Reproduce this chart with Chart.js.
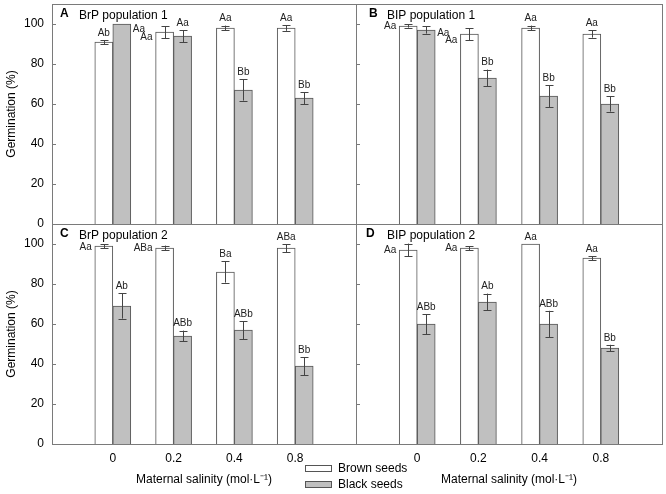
<!DOCTYPE html>
<html lang="en">
<head>
<meta charset="UTF-8">
<title>Germination by maternal salinity</title>
<script src="https://cdn.jsdelivr.net/npm/chart.js"></script>
<style>
  * { margin: 0; padding: 0; box-sizing: border-box; }
  html, body { overflow: hidden; }
  body { width: 666px; height: 494px; background: #fff; font-family: "Liberation Sans", Arial, sans-serif; }
  #wrap { position: relative; width: 666px; height: 494px; }
  #wrap canvas { position: absolute; }
  #legend { position: absolute; left: 305px; top: 460px; font-size: 12px; color: #000; }
  #legend div { height: 16px; display: flex; align-items: center; }
  #legend span { display: inline-block; width: 27px; height: 7px; border: 1px solid #555; margin-right: 6px; }
</style>
</head>
<body>
<div id="wrap">
  <canvas id="cA" width="372" height="252" style="left:0;top:-12px"></canvas>
  <canvas id="cB" width="314" height="228" style="left:352px;top:0"></canvas>
  <canvas id="cC" width="363" height="286" style="left:0;top:208px"></canvas>
  <canvas id="cD" width="320" height="274" style="left:349px;top:220px"></canvas>
  <div id="legend">
    <div><span style="background:#fff"></span>Brown seeds</div>
    <div><span style="background:#c0c0c0"></span>Black seeds</div>
  </div>
</div>

<script>
  const salinity = ['0', '0.2', '0.4', '0.8'];
  const yTicks = [0, 20, 40, 60, 80, 100];

  // A - BrP population 1
  const brownA = [91, 96, 98, 98];
  const brownErrA = [1, 3, 1.2, 1.4];
  const blackA = [100, 94, 67, 63];
  const blackErrA = [0, 3, 5.3, 3];
  const brownLetA = ['Ab', 'Aa', 'Aa', 'Aa'];
  const blackLetA = ['Aa', 'Aa', 'Bb', 'Bb'];

  // B - BIP population 1
  const brownB = [99, 95, 98, 95];
  const brownErrB = [0.8, 3, 1.2, 1.8];
  const blackB = [97, 73, 64, 60];
  const blackErrB = [1.8, 4.2, 5.5, 3.8];
  const brownLetB = ['Aa', 'Aa', 'Aa', 'Aa'];
  const blackLetB = ['Aa', 'Bb', 'Bb', 'Bb'];

  // C - BrP population 2
  const brownC = [99, 98, 86, 98];
  const brownErrC = [1, 1.2, 5.3, 2];
  const blackC = [69, 54, 57, 39];
  const blackErrC = [6.3, 2.7, 4.5, 4.5];
  const brownLetC = ['Aa', 'ABa', 'Ba', 'ABa'];
  const blackLetC = ['Ab', 'ABb', 'ABb', 'Bb'];

  // D - BIP population 2
  const brownD = [97, 98, 100, 93];
  const brownErrD = [3.2, 1, 0, 1];
  const blackD = [60, 71, 60, 48];
  const blackErrD = [5, 4.2, 6.6, 1.6];
  const brownLetD = ['Aa', 'Aa', 'Aa', 'Aa'];
  const blackLetD = ['ABb', 'Ab', 'ABb', 'Bb'];

  const FONT = '"Liberation Sans", Arial, sans-serif';

  // error bars, significance letters, frame, inward ticks, panel title
  const panelPlugin = {
    id: 'panel',
    afterDatasetsDraw(chart, args, o) {
      const { ctx, chartArea: a, scales: { y } } = chart;
      ctx.save();
      chart.data.datasets.forEach((ds, di) => {
        chart.getDatasetMeta(di).data.forEach((bar, i) => {
          const v = ds.data[i].y, e = ds.errors[i];
          const top = y.getPixelForValue(v + e);
          if (e > 0) {
            const bot = y.getPixelForValue(v - e);
            const x = Math.round(bar.x) + 0.5;
            ctx.strokeStyle = '#444';
            ctx.lineWidth = 1;
            ctx.beginPath();
            ctx.moveTo(x, top); ctx.lineTo(x, bot);
            ctx.moveTo(x - 4, Math.round(top) + 0.5); ctx.lineTo(x + 4, Math.round(top) + 0.5);
            ctx.moveTo(x - 4, Math.round(bot) + 0.5); ctx.lineTo(x + 4, Math.round(bot) + 0.5);
            ctx.stroke();
          }
          const side = (o.sides[ds.key] || {})[i];
          ctx.fillStyle = '#222';
          ctx.font = '10px ' + FONT;
          ctx.textBaseline = 'middle';
          if (!side) {
            ctx.textAlign = 'center';
            ctx.fillText(ds.letters[i], bar.x, top - 7);
          } else if (side[0] === 'left') {
            ctx.textAlign = 'right';
            ctx.fillText(ds.letters[i], bar.x - bar.width / 2 - 3, y.getPixelForValue(v) + side[1]);
          } else {
            ctx.textAlign = 'left';
            ctx.fillText(ds.letters[i], bar.x + bar.width / 2 + 2, y.getPixelForValue(v) + side[1]);
          }
        });
      });

      ctx.strokeStyle = '#7a7a7a';
      ctx.lineWidth = 1;
      ctx.strokeRect(a.left + 0.5, a.top + 0.5, a.right - a.left, a.bottom - a.top);
      ctx.beginPath();
      yTicks.forEach(t => {
        const py = Math.round(y.getPixelForValue(t)) + 0.5;
        ctx.moveTo(a.left, py);
        ctx.lineTo(a.left + 4, py);
      });
      ctx.stroke();

      ctx.fillStyle = '#000';
      ctx.textAlign = 'left';
      ctx.textBaseline = 'alphabetic';
      ctx.font = 'bold 12px ' + FONT;
      ctx.fillText(o.tag, a.left + o.tagX, a.top + 13);
      ctx.font = '12px ' + FONT;
      ctx.fillText(o.name, a.left + o.nameX, a.top + 15);
      ctx.restore();
    }
  };

  function makePanel(id, brown, brownErr, brownLet, black, blackErr, blackLet, p) {
    const ctx = document.getElementById(id).getContext('2d');
    return new Chart(ctx, {
      type: 'bar',
      data: {
        datasets: [{
          key: 'brown',
          label: 'Brown seeds',
          data: brown.map((v, i) => ({ x: i, y: v })),
          errors: brownErr,
          letters: brownLet,
          backgroundColor: '#ffffff',
          borderColor: '#555555',
          borderWidth: 1
        }, {
          key: 'black',
          label: 'Black seeds',
          data: black.map((v, i) => ({ x: i, y: v })),
          errors: blackErr,
          letters: blackLet,
          backgroundColor: '#c0c0c0',
          borderColor: '#555555',
          borderWidth: 1
        }]
      },
      options: {
        responsive: false,
        animation: false,
        barThickness: 18,
        layout: { padding: p.padding },
        plugins: {
          legend: { display: false },
          tooltip: { enabled: false },
          panel: { tag: p.tag, name: p.name, tagX: p.tagX, nameX: p.nameX, sides: p.sides }
        },
        scales: {
          x: {
            type: 'linear',
            min: -1,
            max: 4,
            offset: false,
            display: p.showX,
            grid: { display: false, drawTicks: false },
            border: { display: false },
            ticks: {
              stepSize: 1,
              autoSkip: false,
              maxRotation: 0,
              padding: 7,
              color: '#000',
              font: { family: FONT, size: 12 },
              callback: v => salinity[v] ?? ''
            },
            title: {
              display: true,
              text: 'Maternal salinity (mol·L⁻¹)',
              color: '#000',
              font: { family: FONT, size: 12 },
              padding: { top: 0, bottom: 7 }
            },
            afterFit: s => { s.height = p.showX ? 50 : 0; }
          },
          y: {
            min: 0,
            max: 110,
            display: p.showY,
            grid: { display: false, drawTicks: false },
            border: { display: false },
            afterBuildTicks: s => { s.ticks = yTicks.map(v => ({ value: v })); },
            ticks: {
              padding: 8,
              color: '#000',
              font: { family: FONT, size: 12 }
            },
            title: {
              display: true,
              text: 'Germination (%)',
              color: '#000',
              font: { family: FONT, size: 12 },
              padding: { top: 4, bottom: 0 }
            },
            afterFit: s => { s.width = p.showY ? 52 : 0; }
          }
        }
      },
      plugins: [panelPlugin]
    });
  }

  makePanel('cA', brownA, brownErrA, brownLetA, blackA, blackErrA, blackLetA, {
    tag: 'A', name: 'BrP population 1', tagX: 8, nameX: 27,
    padding: { top: 16, right: 16, bottom: 16, left: 0 }, showX: false, showY: true,
    sides: { brown: { 1: ['left', 5] }, black: { 0: ['right', 5] } }
  });
  makePanel('cB', brownB, brownErrB, brownLetB, blackB, blackErrB, blackLetB, {
    tag: 'B', name: 'BIP population 1', tagX: 13, nameX: 31,
    padding: { top: 4, right: 4, bottom: 4, left: 4 }, showX: false, showY: false,
    sides: { brown: { 0: ['left', 0], 1: ['left', 6] }, black: { 0: ['right', 3] } }
  });
  makePanel('cC', brownC, brownErrC, brownLetC, blackC, blackErrC, blackLetC, {
    tag: 'C', name: 'BrP population 2', tagX: 8, nameX: 27,
    padding: { top: 16, right: 4, bottom: 0, left: 0 }, showX: true, showY: true,
    sides: { brown: { 0: ['left', 1], 1: ['left', 0] } }
  });
  makePanel('cD', brownD, brownErrD, brownLetD, blackD, blackErrD, blackLetD, {
    tag: 'D', name: 'BIP population 2', tagX: 10, nameX: 31,
    padding: { top: 4, right: 4, bottom: 0, left: 4 }, showX: true, showY: false,
    sides: { brown: { 0: ['left', 0], 1: ['left', 0] } }
  });
</script>
</body>
</html>
